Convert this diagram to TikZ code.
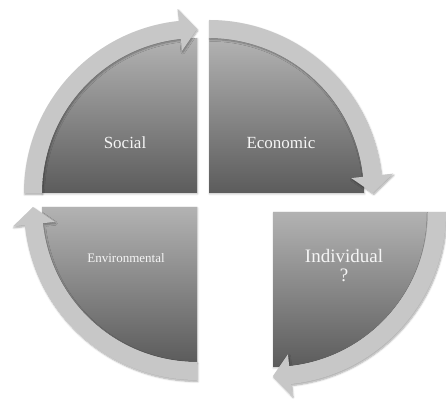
\documentclass[tikz,border=0pt]{standalone}
\usepackage{fontspec}
\setmainfont{Liberation Serif}
\usetikzlibrary{calc,shadows.blur}

\tikzset{
  segfill/.style={top color=black!30,bottom color=black!64,
    blur shadow={shadow xshift=0.5pt,shadow yshift=-1pt,shadow blur steps=6,shadow opacity=25}},
  bandfill/.style={fill=black!22,
    blur shadow={shadow xshift=0.8pt,shadow yshift=-1.5pt,shadow blur steps=6,shadow opacity=35}},
  seglabel/.style={text=black!4,inner sep=0pt,align=center}
}

% quarter segment with its arrow band; #1 corner, #2 start angle (clockwise)
\newcommand{\cyclepart}[2]{%
  \shade[segfill] (#1) -- ($(#1)+(#2:155)$) arc[start angle=#2,delta angle=-90,radius=155] -- cycle;
  \fill[bandfill] ($(#1)+(#2:155)$) -- ($(#1)+(#2:173)$)
    arc[start angle=#2,delta angle=-84,radius=173]
    -- ($(#1)+(#2-84:185)$) -- ($(#1)+(#2-90:164)$) -- ($(#1)+(#2-84:143)$)
    -- ($(#1)+(#2-84:155)$) arc[start angle=#2-84,delta angle=84,radius=155] -- cycle;
}

\begin{document}
\begin{tikzpicture}[x=1pt,y=1pt]
  \useasboundingbox (0,0) rectangle (446,401);
  % corners of the four quarters
  \coordinate (q1) at (197,208);
  \coordinate (q2) at (209,208);
  \coordinate (q3) at (197,194);
  \coordinate (q4) at (273,189);

  \cyclepart{q1}{180}
  \cyclepart{q2}{90}
  \cyclepart{q3}{-90}
  \cyclepart{q4}{0}

  \node[seglabel,font=\fontsize{17}{20}\selectfont] (soc) at (125,258) {Social};
  \node[seglabel,font=\fontsize{17}{20}\selectfont] (eco) at (281,258) {Economic};
  \node[seglabel,font=\fontsize{13}{15}\selectfont] (env) at (126,143) {Environmental};
  \node[seglabel,font=\fontsize{19}{19}\selectfont] (ind) at (344,135) {Individual\\?};
\end{tikzpicture}
\end{document}
